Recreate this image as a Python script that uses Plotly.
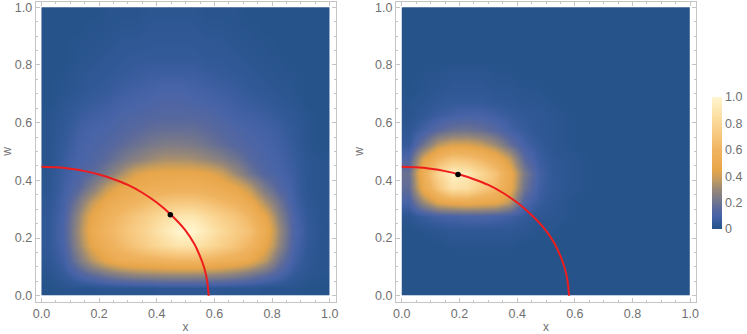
import plotly.graph_objects as go

W, H = 747, 334

# cell edges of the value grids
grid_edges = [0.0, 0.05, 0.1, 0.15, 0.2, 0.25, 0.3, 0.35, 0.4, 0.45, 0.5,
              0.55, 0.6, 0.65, 0.7, 0.75, 0.8, 0.85, 0.9, 0.95, 1.0]

# rows run from w = 0.025 (bottom) to w = 0.975 (top)
left_values = [
    [0, .01, .01, .01, .02, .02, .02, .02, .03, .03, .03, .03, .02, .02, .02, .01, .01, .01, 0, 0],
    [.01, .05, .11, .17, .22, .26, .29, .3, .31, .31, .31, .3, .29, .26, .22, .17, .11, .05, .02, .01],
    [.03, .08, .22, .36, .47, .53, .56, .58, .6, .62, .62, .6, .57, .54, .48, .37, .2, .09, .03, .01],
    [.04, .1, .28, .46, .56, .63, .7, .77, .84, .89, .89, .83, .76, .69, .6, .47, .28, .11, .04, .01],
    [.04, .11, .3, .5, .6, .67, .74, .82, .91, 1, 1, .91, .82, .74, .66, .52, .3, .12, .05, .01],
    [.04, .1, .28, .47, .57, .63, .7, .77, .85, .9, .9, .83, .76, .69, .6, .46, .26, .11, .04, .01],
    [.03, .09, .22, .38, .5, .56, .6, .65, .7, .72, .72, .68, .63, .58, .49, .34, .2, .09, .03, .01],
    [.02, .08, .14, .25, .38, .47, .51, .53, .55, .56, .56, .54, .51, .46, .36, .22, .13, .08, .02, .01],
    [.02, .07, .11, .16, .23, .32, .42, .46, .47, .47, .47, .45, .4, .3, .2, .13, .1, .07, .02, .01],
    [.01, .06, .1, .12, .16, .21, .26, .3, .33, .33, .32, .29, .25, .2, .14, .11, .09, .06, .02, .01],
    [.01, .05, .09, .11, .13, .16, .19, .22, .24, .24, .23, .2, .17, .14, .12, .1, .08, .05, .01, 0],
    [.01, .04, .08, .1, .11, .13, .15, .17, .18, .18, .18, .16, .14, .12, .1, .09, .07, .04, .01, 0],
    [.01, .03, .06, .08, .09, .11, .12, .13, .14, .14, .14, .13, .11, .09, .08, .07, .05, .03, .01, 0],
    [0, .02, .04, .06, .07, .09, .1, .11, .12, .12, .11, .1, .09, .07, .06, .05, .03, .02, 0, 0],
    [0, .01, .02, .04, .05, .07, .08, .09, .1, .1, .09, .08, .07, .06, .04, .03, .02, .01, 0, 0],
    [0, .01, .02, .03, .04, .05, .06, .07, .07, .07, .07, .06, .05, .04, .03, .02, .01, .01, 0, 0],
    [0, 0, .01, .02, .03, .04, .05, .05, .05, .05, .05, .04, .04, .03, .02, .01, .01, 0, 0, 0],
    [0, 0, .01, .01, .02, .03, .03, .04, .04, .04, .04, .03, .03, .02, .01, .01, 0, 0, 0, 0],
    [0, 0, 0, .01, .01, .02, .02, .03, .03, .03, .03, .02, .02, .01, .01, 0, 0, 0, 0, 0],
    [0, 0, 0, 0, .01, .01, .01, .02, .02, .02, .02, .01, .01, .01, 0, 0, 0, 0, 0, 0],
]

right_values = [
    [0] * 20,
    [0] * 20,
    [0] * 20,
    [0, 0, 0, .01, .01, .01, .01, .01, 0, 0, 0, 0, 0, 0, 0, 0, 0, 0, 0, 0],
    [0, .01, .02, .03, .03, .03, .03, .03, .02, .01, .01, 0, 0, 0, 0, 0, 0, 0, 0, 0],
    [.02, .06, .09, .1, .11, .11, .1, .08, .05, .03, .02, .01, 0, 0, 0, 0, 0, 0, 0, 0],
    [.1, .3, .44, .48, .5, .48, .46, .36, .12, .06, .03, .01, 0, 0, 0, 0, 0, 0, 0, 0],
    [.17, .5, .7, .88, .85, .74, .63, .48, .2, .08, .04, .02, .01, 0, 0, 0, 0, 0, 0, 0],
    [.19, .55, .8, .97, .93, .8, .68, .5, .23, .09, .04, .02, .01, 0, 0, 0, 0, 0, 0, 0],
    [.12, .43, .6, .7, .68, .62, .52, .38, .15, .07, .03, .02, .01, 0, 0, 0, 0, 0, 0, 0],
    [.05, .2, .36, .42, .42, .38, .3, .18, .09, .05, .02, .01, 0, 0, 0, 0, 0, 0, 0, 0],
    [.03, .09, .15, .19, .2, .18, .14, .09, .06, .03, .02, .01, 0, 0, 0, 0, 0, 0, 0, 0],
    [.01, .04, .07, .09, .1, .1, .08, .06, .04, .03, .02, .01, 0, 0, 0, 0, 0, 0, 0, 0],
    [.01, .02, .04, .05, .05, .05, .04, .03, .02, .02, .01, 0, 0, 0, 0, 0, 0, 0, 0, 0],
    [0, .01, .02, .03, .03, .03, .02, .02, .01, .01, 0, 0, 0, 0, 0, 0, 0, 0, 0, 0],
    [0, .01, .01, .02, .02, .02, .01, .01, 0, 0, 0, 0, 0, 0, 0, 0, 0, 0, 0, 0],
    [0] * 20,
    [0] * 20,
    [0] * 20,
    [0] * 20,
]

curve_x = [0, .05, .1, .15, .2, .25, .3, .35, .4, .45, .5, .53, .55, .565, .575, .58]
curve_w = [.447, .445, .44, .432, .42, .404, .384, .357, .323, .28, .226, .18, .137, .095, .05, 0]

point_left = ([.447], [.281])
point_right = ([.195], [.42])

scale_stops = [0, .05, .1, .15, .2, .3, .37, .45, .6, .7, .8, .9, 1]
scale_colors = ["#26538a", "#345a9a", "#4864a8", "#58689e", "#6e7490", "#988878", "#c09a60", "#e8a64a",
                "#f0b460", "#f6c67c", "#fad694", "#fde6b0", "#fff6d0"]

major_ticks = [0, .2, .4, .6, .8, 1]
major_labels = ["0.0", "0.2", "0.4", "0.6", "0.8", "1.0"]
minor_ticks = [.05, .1, .15, .25, .3, .35, .45, .5, .55, .65, .7, .75, .85, .9, .95]
bar_ticks = [0, .2, .4, .6, .8, 1]
bar_labels = ["0", "0.2", "0.4", "0.6", "0.8", "1.0"]

FONT = "Liberation Sans"
GRAY = "#707070"
FRAME = "#c4c4c4"

fig = go.Figure()
for i, vals in enumerate([left_values, right_values]):
    fig.add_trace(go.Heatmap(x=grid_edges, y=grid_edges, z=vals, zsmooth="best",
                             coloraxis="coloraxis", xaxis=f"x{i+1}" if i else "x",
                             yaxis=f"y{i+1}" if i else "y", hoverinfo="skip"))
for i, pt in enumerate([point_left, point_right]):
    ax = {"xaxis": "x2", "yaxis": "y2"} if i else {"xaxis": "x", "yaxis": "y"}
    fig.add_trace(go.Scatter(x=curve_x, y=curve_w, mode="lines",
                             line=dict(color="#ee1c1c", width=2, shape="spline", smoothing=0.8),
                             showlegend=False, **ax))
    fig.add_trace(go.Scatter(x=pt[0], y=pt[1], mode="markers",
                             marker=dict(color="black", size=5.5), showlegend=False, **ax))

axis_common = dict(range=[-0.02, 1.02], tickmode="array", tickvals=major_ticks, ticktext=major_labels,
                   ticks="inside", ticklen=4, tickcolor=FRAME, tickwidth=1, showline=True, linecolor=FRAME,
                   linewidth=1, mirror="allticks", showgrid=False, zeroline=False, automargin=False,
                   tickfont=dict(family=FONT, size=12.5, color=GRAY),
                   minor=dict(tickvals=minor_ticks, ticks="inside", ticklen=2, tickcolor=FRAME,
                              tickwidth=1, showgrid=False))

def xdom(a, b):
    return [a / W, b / W]

def ydom(top, bottom):
    return [1 - bottom / H, 1 - top / H]

title_font = dict(family=FONT, size=12, color=GRAY)
fig.update_layout(
    width=W, height=H, autosize=False, margin=dict(l=0, r=0, t=0, b=0, autoexpand=False),
    paper_bgcolor="white", plot_bgcolor="white", showlegend=False,
    xaxis=dict(domain=xdom(35.7, 335.5), anchor="y", title=dict(text="x", font=title_font, standoff=4), **axis_common),
    yaxis=dict(domain=ydom(1.5, 301.5), anchor="x", title=dict(text="w", font=title_font, standoff=8), **axis_common),
    xaxis2=dict(domain=xdom(396, 696), anchor="y2", title=dict(text="x", font=title_font, standoff=4), **axis_common),
    yaxis2=dict(domain=ydom(1.5, 301.5), anchor="x2", title=dict(text="w", font=title_font, standoff=8), **axis_common),
    coloraxis=dict(
        cmin=0, cmax=1,
        colorscale=[[s, c] for s, c in zip(scale_stops, scale_colors)],
        colorbar=dict(
            x=712 / W, xanchor="left", xref="paper", y=1 - 229 / H, yanchor="bottom", yref="paper",
            len=132, lenmode="pixels", thickness=10, thicknessmode="pixels",
            outlinewidth=0, ticks="", tickmode="array", tickvals=bar_ticks, ticktext=bar_labels,
            tickfont=dict(family=FONT, size=12.5, color=GRAY), ypad=0, xpad=0,
        ),
    ),
)

fig.write_html("out.html", config={"displayModeBar": False},
               post_script="document.body.style.margin='0';document.body.style.overflow='hidden';")
